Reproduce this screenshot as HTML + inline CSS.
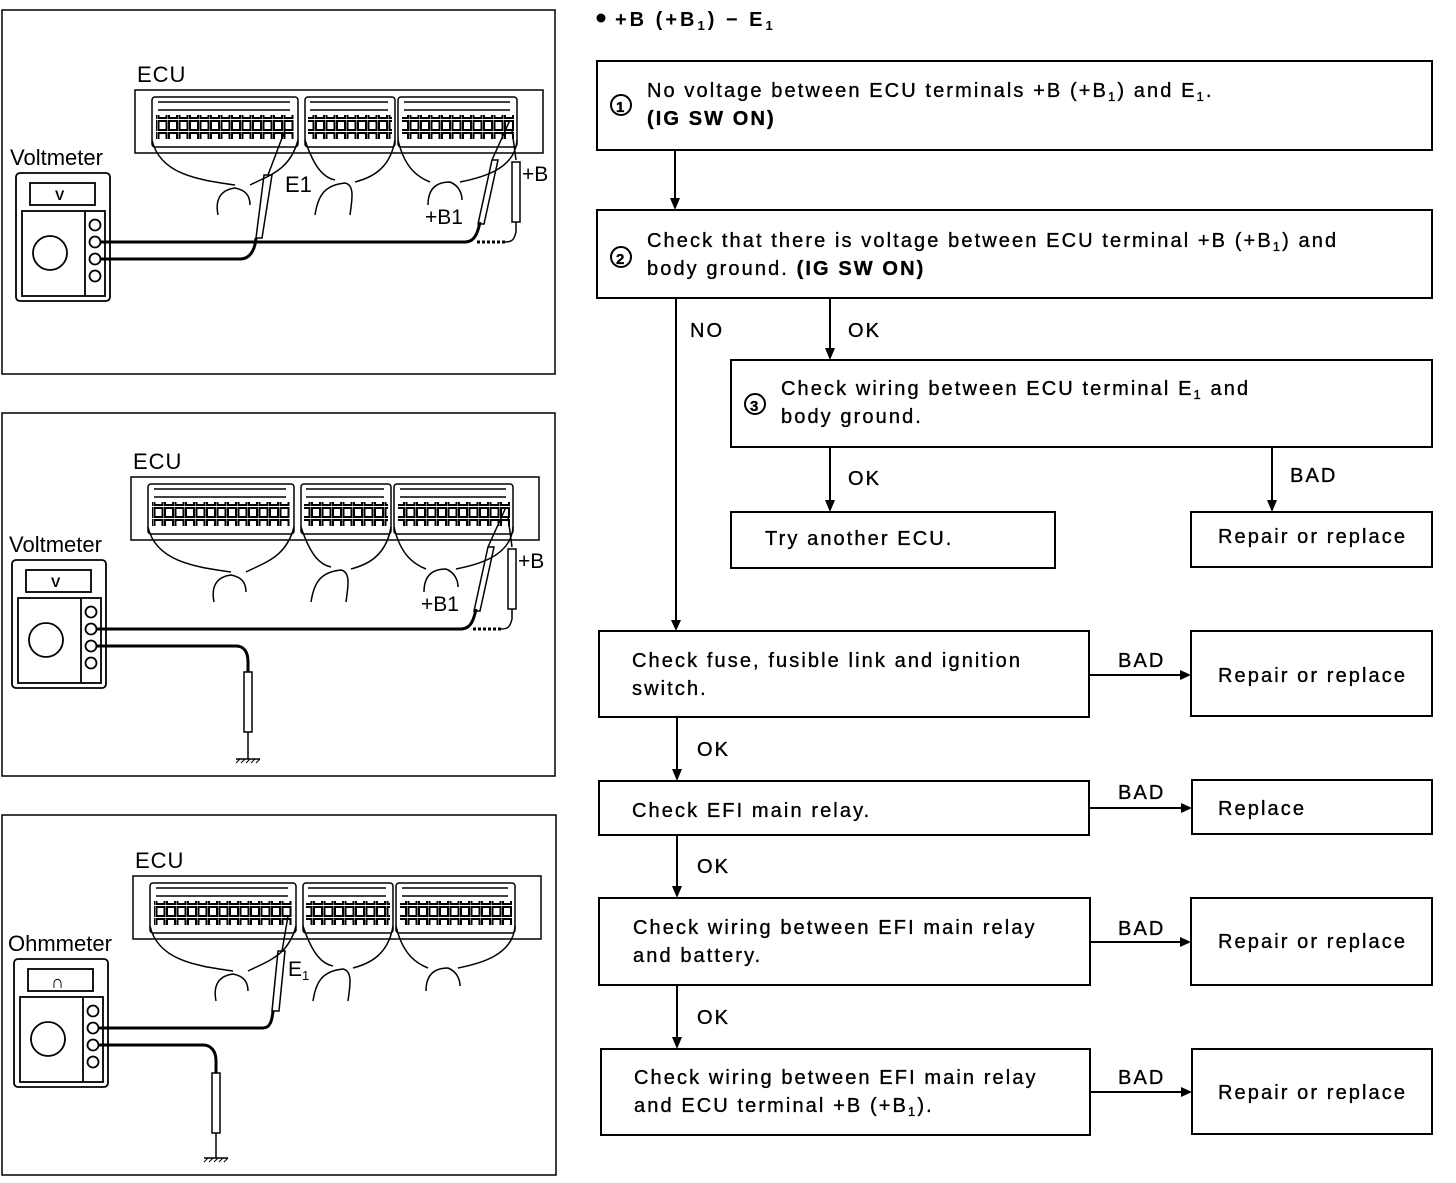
<!DOCTYPE html>
<html><head><meta charset="utf-8"><style>
body{margin:0;background:#fff;width:1456px;height:1178px;overflow:hidden}
svg text{font-family:"Liberation Sans",sans-serif;fill:#000}
.f text{letter-spacing:2.1px;stroke:#000;stroke-width:0.35px}
</style></head><body>
<svg width="1456" height="1178" viewBox="0 0 1456 1178" xmlns="http://www.w3.org/2000/svg">
<defs>
<pattern id="sq" width="10.5" height="12" patternUnits="userSpaceOnUse">
<rect x="1" y="1" width="8" height="9" fill="none" stroke="#000" stroke-width="2"/>
</pattern>
<g id="base">
<rect x="135" y="90" width="408" height="63" fill="none" stroke="#000" stroke-width="1.5"/>
<text x="137" y="82" font-size="22" letter-spacing="1">ECU</text>
<g fill="none" stroke="#000" stroke-width="1.5">
<rect x="152" y="97" width="146" height="50" rx="3"/>
<rect x="305" y="97" width="90" height="50" rx="3"/>
<rect x="398" y="97" width="119" height="50" rx="3"/>
<line x1="158" y1="102" x2="290" y2="102"/><line x1="310" y1="102" x2="388" y2="102"/><line x1="404" y1="102" x2="510" y2="102"/>
<line x1="158" y1="110" x2="290" y2="110"/><line x1="310" y1="110" x2="388" y2="110"/><line x1="404" y1="110" x2="510" y2="110"/>
<path d="M152 140 C160 175 200 180 235 185 M298 140 C290 170 270 175 250 185 M305 140 C315 170 325 178 335 180 M395 140 C390 170 370 178 355 182 M398 140 C405 170 420 178 430 182 M517 140 C515 170 480 178 460 182"/>
<path d="M218 215 C215 200 220 190 235 188 C245 190 250 195 250 205 M315 215 C318 195 325 185 345 183 C355 185 352 200 350 215 M428 205 C428 190 435 182 450 182 C460 186 462 195 462 200"/>
</g>
<rect x="156" y="115" width="138" height="24" fill="url(#sq)"/>
<rect x="308" y="115" width="84" height="24" fill="url(#sq)"/>
<rect x="402" y="115" width="112" height="24" fill="url(#sq)"/>
<g fill="none" stroke="#000" stroke-width="1.8">
<rect x="16" y="173" width="94" height="128" rx="4"/>
<rect x="30" y="183" width="65" height="22"/>
<rect x="22" y="211" width="83" height="85"/>
<line x1="85" y1="211" x2="85" y2="296"/>
<circle cx="50" cy="253" r="17"/>
<circle cx="95" cy="225" r="5.5"/><circle cx="95" cy="242" r="5.5"/><circle cx="95" cy="259" r="5.5"/><circle cx="95" cy="276" r="5.5"/>
</g>
</g>
<g id="bprobes" fill="none" stroke="#000">
<path d="M100 242 L465 242 C475 242 478 232 480 222" stroke-width="3"/>
<path d="M478 224 L492 160 L498 160 L484 224 Z M492 160 L510 120" stroke-width="1.5"/>
<path d="M512 162 L520 162 L520 222 L512 222 Z M516 160 L512 130 M516 222 L516 232 C514 240 512 242 505 242" stroke-width="1.5"/>
<path d="M505 242 L475 242" stroke-width="3" stroke-dasharray="3 2"/>
<text x="425" y="224" font-size="21" stroke="none">+B1</text>
<text x="522" y="181" font-size="21" stroke="none">+B</text>
</g>
</defs>
<g fill="none" stroke="#000" stroke-width="1.5">
<rect x="2" y="10" width="553" height="364"/>
<rect x="2" y="413" width="553" height="363"/>
<rect x="2" y="815" width="554" height="360"/>
</g>
<use href="#base"/>
<text x="10" y="165" font-size="22">Voltmeter</text>
<text x="55" y="200" font-size="14" font-weight="bold">V</text>
<use href="#bprobes"/>
<g fill="none" stroke="#000">
<path d="M100 259 L240 259 C250 259 255 250 256 238" stroke-width="3"/>
<path d="M256 238 L264 175 L272 175 L262 238 Z M268 175 L285 130" stroke-width="1.5"/>
</g>
<text x="285" y="192" font-size="22">E1</text>
<g transform="translate(-4,387)">
<use href="#base"/>
<text x="13" y="165" font-size="22">Voltmeter</text>
<text x="55" y="200" font-size="14" font-weight="bold">V</text>
<use href="#bprobes"/>
<g fill="none" stroke="#000">
<path d="M100 259 L240 259 C248 259 252 265 252 275 L252 285" stroke-width="3"/>
<rect x="248" y="285" width="8" height="60" stroke-width="1.5"/>
<path d="M252 345 L252 372 M240 372 L264 372" stroke-width="1.5"/>
<path d="M240 376 L244 372 M245 376 L249 372 M250 376 L254 372 M255 376 L259 372 M260 376 L264 372" stroke-width="1"/>
</g>
</g>
<g transform="translate(-2,786)">
<use href="#base"/>
<text x="10" y="165" font-size="22">Ohmmeter</text>
<text x="53" y="202" font-size="18" font-weight="bold">∩</text>
<g fill="none" stroke="#000">
<path d="M100 242 L265 242 C272 242 274 235 275 225" stroke-width="3"/>
<path d="M274 225 L280 165 L287 165 L281 225 Z M284 165 L290 130" stroke-width="1.5"/>
<path d="M100 259 L205 259 C213 259 218 265 218 275 L218 287" stroke-width="3"/>
<rect x="214" y="287" width="8" height="60" stroke-width="1.5"/>
<path d="M218 347 L218 372 M206 372 L230 372" stroke-width="1.5"/>
<path d="M206 376 L210 372 M211 376 L215 372 M216 376 L220 372 M221 376 L225 372 M226 376 L230 372" stroke-width="1"/>
</g>
<text x="290" y="190" font-size="21">E<tspan font-size="13" dy="4">1</tspan></text>
</g>

<circle cx="601" cy="18" r="4.5" fill="#000"/>
<text x="615" y="26" font-size="20" font-weight="bold" letter-spacing="3">+B (+B<tspan font-size="13" dy="4">1</tspan><tspan dy="-4">) − E</tspan><tspan font-size="13" dy="4">1</tspan></text>
<g fill="none" stroke="#000" stroke-width="2">
<rect x="597" y="61" width="835" height="89"/>
<rect x="597" y="210" width="835" height="88"/>
<rect x="731" y="360" width="701" height="87"/>
<rect x="731" y="512" width="324" height="56"/>
<rect x="1191" y="512" width="241" height="55"/>
<rect x="599" y="631" width="490" height="86"/>
<rect x="1191" y="631" width="241" height="85"/>
<rect x="599" y="781" width="490" height="54"/>
<rect x="1192" y="780" width="240" height="54"/>
<rect x="599" y="898" width="491" height="87"/>
<rect x="1191" y="898" width="241" height="87"/>
<rect x="601" y="1049" width="489" height="86"/>
<rect x="1192" y="1049" width="240" height="85"/>
<line x1="675" y1="150" x2="675" y2="200"/>
<line x1="676" y1="298" x2="676" y2="622"/>
<line x1="830" y1="298" x2="830" y2="350"/>
<line x1="830" y1="447" x2="830" y2="502"/>
<line x1="1272" y1="447" x2="1272" y2="502"/>
<line x1="1089" y1="675" x2="1182" y2="675"/>
<line x1="677" y1="717" x2="677" y2="771"/>
<line x1="1089" y1="808" x2="1183" y2="808"/>
<line x1="677" y1="835" x2="677" y2="888"/>
<line x1="1090" y1="942" x2="1182" y2="942"/>
<line x1="677" y1="985" x2="677" y2="1039"/>
<line x1="1090" y1="1092" x2="1183" y2="1092"/>
</g>
<g fill="#000">
<path d="M670 198 L675 210 L680 198 Z"/>
<path d="M671 620 L676 631 L681 620 Z"/>
<path d="M825 348 L830 360 L835 348 Z"/>
<path d="M825 500 L830 512 L835 500 Z"/>
<path d="M1267 500 L1272 512 L1277 500 Z"/>
<path d="M1180 670 L1191 675 L1180 680 Z"/>
<path d="M672 769 L677 781 L682 769 Z"/>
<path d="M1181 803 L1192 808 L1181 813 Z"/>
<path d="M672 886 L677 898 L682 886 Z"/>
<path d="M1180 937 L1191 942 L1180 947 Z"/>
<path d="M672 1037 L677 1049 L682 1037 Z"/>
<path d="M1181 1087 L1192 1092 L1181 1097 Z"/>
</g>
<g font-size="20" class="f">
<circle cx="621" cy="105" r="10" fill="none" stroke="#000" stroke-width="2"/><text x="616" y="112" font-size="15" font-weight="bold" style="letter-spacing:0">1</text>
<text x="647" y="97">No voltage between ECU terminals +B (+B<tspan font-size="13" dy="4">1</tspan><tspan dy="-4">) and E</tspan><tspan font-size="13" dy="4">1</tspan><tspan dy="-4">.</tspan></text>
<text x="647" y="125" font-weight="bold">(IG SW ON)</text>
<circle cx="621" cy="257" r="10" fill="none" stroke="#000" stroke-width="2"/><text x="616" y="264" font-size="15" font-weight="bold" style="letter-spacing:0">2</text>
<text x="647" y="247">Check that there is voltage between ECU terminal +B (+B<tspan font-size="13" dy="4">1</tspan><tspan dy="-4">) and</tspan></text>
<text x="647" y="275">body ground. <tspan font-weight="bold">(IG SW ON)</tspan></text>
<text x="690" y="337">NO</text><text x="848" y="337">OK</text>
<circle cx="755" cy="404" r="10" fill="none" stroke="#000" stroke-width="2"/><text x="750" y="411" font-size="15" font-weight="bold" style="letter-spacing:0">3</text>
<text x="781" y="395">Check wiring between ECU terminal E<tspan font-size="13" dy="4">1</tspan><tspan dy="-4"> and</tspan></text>
<text x="781" y="423">body ground.</text>
<text x="848" y="485">OK</text><text x="1290" y="482">BAD</text>
<text x="765" y="545">Try another ECU.</text>
<text x="1218" y="543">Repair or replace</text>
<text x="632" y="667">Check fuse, fusible link and ignition</text>
<text x="632" y="695">switch.</text>
<text x="1118" y="667">BAD</text>
<text x="1218" y="682">Repair or replace</text>
<text x="697" y="756">OK</text>
<text x="632" y="817">Check EFI main relay.</text>
<text x="1118" y="799">BAD</text>
<text x="1218" y="815">Replace</text>
<text x="697" y="873">OK</text>
<text x="633" y="934">Check wiring between EFI main relay</text>
<text x="633" y="962">and battery.</text>
<text x="1118" y="935">BAD</text>
<text x="1218" y="948">Repair or replace</text>
<text x="697" y="1024">OK</text>
<text x="634" y="1084">Check wiring between EFI main relay</text>
<text x="634" y="1112">and ECU terminal +B (+B<tspan font-size="13" dy="4">1</tspan><tspan dy="-4">).</tspan></text>
<text x="1118" y="1084">BAD</text>
<text x="1218" y="1099">Repair or replace</text>
</g>
</svg>
</body></html>
